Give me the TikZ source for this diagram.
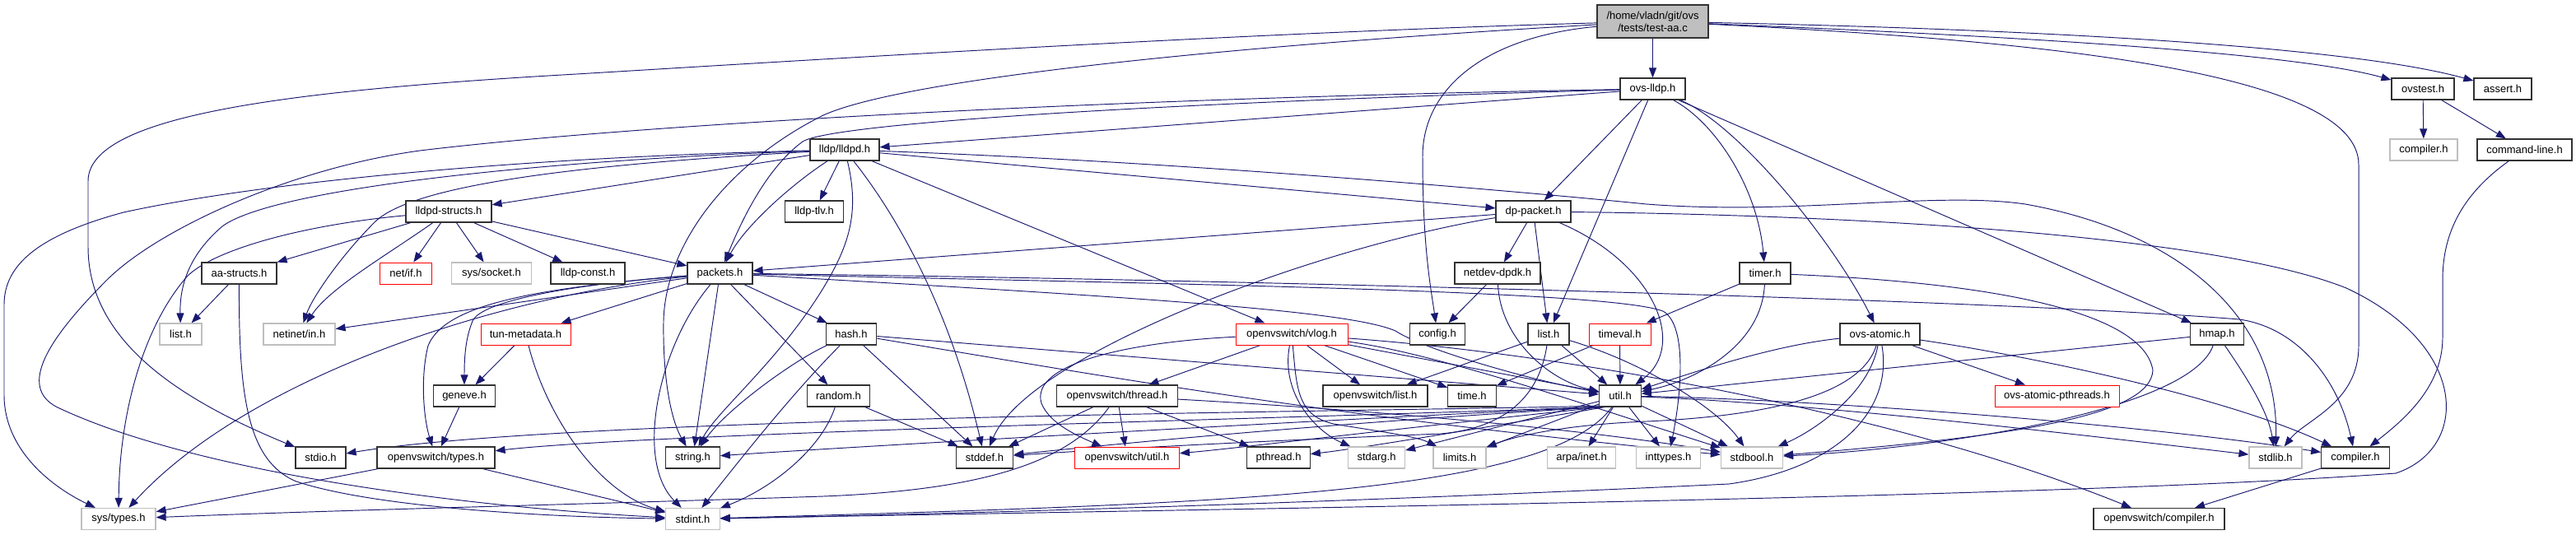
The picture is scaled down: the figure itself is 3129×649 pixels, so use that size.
\documentclass[tikz,border=0pt]{standalone}
\usepackage{fontspec}
\setmainfont{Liberation Sans}
\usetikzlibrary{arrows.meta}
\definecolor{edgec}{RGB}{25,25,112}
\definecolor{gfill}{RGB}{191,191,191}
\definecolor{gbord}{RGB}{191,191,191}
\definecolor{nbord}{RGB}{50,50,50}
\pgfdeclarelayer{bg}
\pgfsetlayers{bg,main}
\begin{document}
\begin{tikzpicture}[x=1pt,y=-1pt,
  box/.style={draw=nbord, line width=1.2pt, fill=white, minimum height=26pt, inner sep=0pt, font=\fontsize{13pt}{15pt}\selectfont},
  gbox/.style={box, draw=gbord},
  rbox/.style={box, draw=red, line width=1pt},
  e/.style={draw=edgec, line width=0.95pt, -{Triangle[length=12pt,width=9pt]}}]
\useasboundingbox (0,0) rectangle (3129,649);

% row 1
\node[box, fill=gfill, minimum width=135pt, minimum height=40pt, align=center] (T) at (2007.5,26) {/home/vladn/git/ovs\\/tests/test-aa.c};
% row 2
\node[box, minimum width=79pt] (L) at (2007.5,108) {ovs-lldp.h};
\node[box, minimum width=76pt] (ovst) at (2943,108) {ovstest.h};
\node[box, minimum width=70pt] (asrt) at (3040,108) {assert.h};
% row 3
\node[box, minimum width=84pt] (D) at (1026,182) {lldp/lldpd.h};
\node[gbox, minimum width=82pt] (cmpg) at (2944,182) {compiler.h};
\node[box, minimum width=115pt] (cmdl) at (3066.5,182) {command-line.h};
% row 4
\node[box, minimum width=104pt] (S) at (545,257) {lldpd-structs.h};
\node[box, minimum width=71pt] (tlv) at (989,257) {lldp-tlv.h};
\node[box, minimum width=91pt] (dpp) at (1862.5,257) {dp-packet.h};
% row 5
\node[box, minimum width=91pt] (aa) at (290.5,332) {aa-structs.h};
\node[rbox, minimum width=62.5pt] (netif) at (493,332) {net/if.h};
\node[gbox, minimum width=97.5pt] (sock) at (597,332) {sys/socket.h};
\node[box, minimum width=90pt] (lconst) at (714,332) {lldp-const.h};
\node[box, minimum width=79pt] (P) at (874.5,332) {packets.h};
\node[box, minimum width=104pt] (ndpdk) at (1819,332) {netdev-dpdk.h};
\node[box, minimum width=62pt] (timer) at (2144,332) {timer.h};
% row 6
\node[gbox, minimum width=51pt] (listg) at (219.5,406) {list.h};
\node[gbox, minimum width=87pt] (netin) at (363.5,406) {netinet/in.h};
\node[rbox, minimum width=109pt] (tun) at (638.5,406) {tun-metadata.h};
\node[box, minimum width=61.5pt] (hash) at (1034,406) {hash.h};
\node[rbox, minimum width=136pt] (vlog) at (1569,406) {openvswitch/vlog.h};
\node[box, minimum width=67pt] (config) at (1746,406) {config.h};
\node[box, minimum width=50pt] (listb) at (1881,406) {list.h};
\node[rbox, minimum width=75pt] (tval) at (1967.5,406) {timeval.h};
\node[box, minimum width=97pt] (atomic) at (2283.5,406) {ovs-atomic.h};
\node[box, minimum width=65pt] (hmap) at (2693,406) {hmap.h};
% row 7
\node[box, minimum width=75pt] (gen) at (564,481) {geneve.h};
\node[box, minimum width=76pt] (rand) at (1018.5,481) {random.h};
\node[box, minimum width=146.5pt] (thr) at (1357,481) {openvswitch/thread.h};
\node[box, minimum width=127pt] (olist) at (1670.5,481) {openvswitch/list.h};
\node[box, minimum width=58.5pt] (time) at (1788,481) {time.h};
\node[box, minimum width=50.5pt] (U) at (1968,481) {util.h};
\node[rbox, minimum width=151pt] (pthr) at (2498.5,481) {ovs-atomic-pthreads.h};
% row 8
\node[box, minimum width=61pt] (stdio) at (389.5,556) {stdio.h};
\node[box, minimum width=143pt] (otypes) at (529.5,556) {openvswitch/types.h};
\node[box, minimum width=65.5pt] (str) at (841.5,556) {string.h};
\node[box, minimum width=69.5pt] (stddef) at (1196,556) {stddef.h};
\node[rbox, minimum width=127pt] (outil) at (1369,556) {openvswitch/util.h};
\node[box, minimum width=76.5pt] (pthread) at (1553,556) {pthread.h};
\node[gbox, minimum width=69pt] (stdarg) at (1672,556) {stdarg.h};
\node[gbox, minimum width=64pt] (limits) at (1773,556) {limits.h};
\node[gbox, minimum width=82.6pt] (arpa) at (1921,556) {arpa/inet.h};
\node[gbox, minimum width=78pt] (intt) at (2026.5,556) {inttypes.h};
\node[gbox, minimum width=75pt] (stdbool) at (2128,556) {stdbool.h};
\node[gbox, minimum width=64pt] (stdlib) at (2764,556) {stdlib.h};
\node[box, minimum width=82.6pt] (cmpb) at (2861,556) {compiler.h};
% row 9
\node[gbox, minimum width=90pt] (systypes) at (144,630.5) {sys/types.h};
\node[gbox, minimum width=65.5pt] (stdint) at (841.5,630.5) {stdint.h};
\node[box, minimum width=159pt] (ocmp) at (2622.5,630.5) {openvswitch/compiler.h};

\begin{pgfonlayer}{bg}
\fill[white] (0,0) rectangle (3129,649);
% test-aa.c
\draw[e] (T) -- (L);
\draw[e] (T) .. controls (2400,42) and (2780,62) .. (ovst);
\draw[e] (T) .. controls (2450,35) and (2850,55) .. (asrt);
\draw[e] (T) .. controls (2500,50) and (2865,90) .. (2865,200) -- (2865,420) .. controls (2865,490) and (2800,510) .. (stdlib);
\draw[e] (T) .. controls (1800,45) and (1728,110) .. (1728,190) .. controls (1728,300) and (1738,350) .. (config);
\draw[e] (T) .. controls (1500,40) and (950,75) .. (700,90) .. controls (350,110) and (107,140) .. (107,220) -- (107,300) .. controls (107,420) and (230,490) .. (stdio);
\draw[e] (T) .. controls (1500,55) and (1100,95) .. (1000,140) .. controls (880,200) and (808,300) .. (806,390) .. controls (805,460) and (815,510) .. (str);
% ovstest, command-line
\draw[e] (ovst) -- (cmpg);
\draw[e] (ovst) -- (cmdl);
\draw[e] (cmdl) .. controls (2985,240) and (2967,290) .. (2967,340) -- (2967,410) .. controls (2967,470) and (2920,510) .. (cmpb);
% ovs-lldp.h
\draw[e] (L) -- (D);
\draw[e] (L) .. controls (1400,125) and (1010,150) .. (975,172) .. controls (930,205) and (900,270) .. (P);
\draw[e] (L) .. controls (1400,118) and (800,148) .. (510,183) .. controls (350,205) and (190,280) .. (130,340) .. controls (60,410) and (20,470) .. (70,495) .. controls (250,580) and (600,618) .. (stdint);
\draw[e] (L) -- (dpp);
\draw[e] (L) -- (listb);
\draw[e] (L) .. controls (2085,150) and (2135,230) .. (timer);
\draw[e] (L) .. controls (2110,150) and (2225,290) .. (atomic);
\draw[e] (L) -- (hmap);
% lldpd.h
\draw[e] (D) -- (S);
\draw[e] (D) .. controls (600,192) and (300,225) .. (150,258) .. controls (50,285) and (5,320) .. (5,370) -- (5,480) .. controls (5,545) and (60,590) .. (systypes);
\draw[e] (D) .. controls (650,195) and (330,230) .. (270,275) .. controls (235,305) and (218,340) .. (listg);
\draw[e] (D) .. controls (700,200) and (500,225) .. (455,270) .. controls (415,310) and (380,360) .. (netin);
\draw[e] (D) .. controls (960,225) and (905,275) .. (P);
\draw[e] (D) -- (tlv);
\draw[e] (D) .. controls (1045,260) and (1030,300) .. (1000,350) .. controls (945,440) and (870,500) .. (str);
\draw[e] (D) .. controls (1080,250) and (1150,360) .. (stddef);
\draw[e] (D) -- (vlog);
\draw[e] (D) .. controls (1400,195) and (1800,228) .. (2000,248) .. controls (2180,262) and (2350,232) .. (2460,248) .. controls (2640,280) and (2768,380) .. (stdlib);
\draw[e] (D) -- (dpp);
% lldpd-structs.h
\draw[e] (S) -- (aa);
\draw[e] (S) .. controls (470,310) and (400,350) .. (netin);
\draw[e] (S) -- (netif);
\draw[e] (S) -- (sock);
\draw[e] (S) -- (lconst);
\draw[e] (S) -- (P);
\draw[e] (S) .. controls (380,272) and (265,300) .. (228,335) .. controls (175,395) and (145,500) .. (systypes);
% aa-structs.h
\draw[e] (aa) -- (listg);
\draw[e] (aa) .. controls (290,480) and (300,560) .. (360,585) .. controls (450,615) and (650,628) .. (stdint);
% packets.h
\draw[e] (P) -- (netin);
\draw[e] (P) .. controls (600,360) and (300,460) .. (systypes);
\draw[e] (P) .. controls (650,350) and (540,370) .. (520,420) .. controls (510,460) and (515,510) .. (otypes);
\draw[e] (P) .. controls (700,345) and (585,365) .. (574,390) .. controls (566,410) and (564,430) .. (gen);
\draw[e] (P) -- (tun);
\draw[e] (P) -- (hash);
\draw[e] (P) -- (rand);
\draw[e] (P) -- (str);
\draw[e] (P) .. controls (800,420) and (770,560) .. (stdint);
\draw[e] (P) .. controls (1400,345) and (1950,352) .. (2020,378) .. controls (2050,395) and (2042,480) .. (intt);
\draw[e] (P) .. controls (1400,338) and (2400,362) .. (2720,388) .. controls (2790,398) and (2840,460) .. (cmpb);
\draw[e] (P) .. controls (1400,362) and (1640,378) .. (1695,402) .. controls (1730,425) and (1860,462) .. (U);
% hash.h
\draw[e] (hash) .. controls (960,440) and (880,500) .. (str);
\draw[e] (hash) .. controls (960,480) and (890,570) .. (stdint);
\draw[e] (hash) -- (stddef);
\draw[e] (hash) -- (U);
\draw[e] (hash) .. controls (1300,450) and (1600,505) .. (stdbool);
% random.h
\draw[e] (rand) -- (stddef);
\draw[e] (rand) .. controls (1000,540) and (945,590) .. (stdint);
% tun-metadata.h, geneve.h, types.h
\draw[e] (tun) -- (gen);
\draw[e] (tun) .. controls (665,510) and (730,600) .. (stdint);
\draw[e] (gen) -- (otypes);
\draw[e] (otypes) -- (systypes);
\draw[e] (otypes) -- (stdint);
% dp-packet.h
\draw[e] (dpp) -- (P);
\draw[e] (dpp) .. controls (1600,300) and (1250,430) .. (stddef);
\draw[e] (dpp) -- (ndpdk);
\draw[e] (dpp) -- (listb);
\draw[e] (dpp) .. controls (2010,320) and (2050,420) .. (U);
\draw[e] (dpp) .. controls (2300,262) and (2700,290) .. (2850,350) .. controls (3000,420) and (3000,545) .. (2910,575) .. controls (2500,605) and (1500,618) .. (stdint);
% netdev-dpdk.h
\draw[e] (ndpdk) -- (config);
\draw[e] (ndpdk) .. controls (1822,410) and (1880,462) .. (U);
% timer.h
\draw[e] (timer) -- (tval);
\draw[e] (timer) .. controls (2140,420) and (2060,462) .. (U);
\draw[e] (timer) .. controls (2450,345) and (2605,385) .. (2615,450) .. controls (2612,505) and (2450,530) .. (stdbool);
% timeval.h
\draw[e] (tval) -- (time);
\draw[e] (tval) -- (U);
% list.h
\draw[e] (listb) -- (olist);
\draw[e] (listb) -- (U);
\draw[e] (listb) .. controls (1995,440) and (2085,495) .. (stdbool);
\draw[e] (listb) .. controls (1870,480) and (1830,520) .. (1750,527) .. controls (1550,535) and (1350,545) .. (stddef);
% openvswitch/vlog.h
\draw[e] (vlog) .. controls (1380,415) and (1250,440) .. (1265,490) .. controls (1275,515) and (1310,530) .. (outil);
\draw[e] (vlog) -- (thr);
\draw[e] (vlog) -- (olist);
\draw[e] (vlog) -- (time);
\draw[e] (vlog) .. controls (1555,480) and (1600,525) .. (stdarg);
\draw[e] (vlog) .. controls (1575,470) and (1575,505) .. (1620,515) .. controls (1680,525) and (1720,530) .. (limits);
\draw[e] (vlog) .. controls (1750,430) and (1950,500) .. (stdbool);
\draw[e] (vlog) -- (U);
\draw[e] (vlog) .. controls (1900,430) and (2300,500) .. (ocmp);
% openvswitch/thread.h
\draw[e] (thr) -- (stddef);
\draw[e] (thr) .. controls (1300,560) and (1200,595) .. (1000,603) .. controls (700,613) and (400,620) .. (systypes);
\draw[e] (thr) -- (outil);
\draw[e] (thr) -- (pthread);
\draw[e] (thr) .. controls (1700,500) and (1950,525) .. (stdbool);
% util.h
\draw[e] (U.205) .. controls (1700,500) and (700,505) .. (stdio);
\draw[e] (U.207) .. controls (1700,505) and (800,525) .. (otypes);
\draw[e] (U.209) .. controls (1600,510) and (1000,545) .. (str);
\draw[e] (U.211) .. controls (1600,515) and (1350,540) .. (stddef);
\draw[e] (U.213) .. controls (1700,520) and (1500,545) .. (outil);
\draw[e] (U.216) .. controls (1800,520) and (1650,545) .. (pthread);
\draw[e] (U) -- (stdarg);
\draw[e] (U) -- (limits);
\draw[e] (U) -- (arpa);
\draw[e] (U) -- (intt);
\draw[e] (U) -- (stdbool);
\draw[e] (U) .. controls (1880,600) and (1500,612) .. (stdint);
\draw[e] (U) .. controls (2200,490) and (2500,525) .. (stdlib);
\draw[e] (U) .. controls (2200,485) and (2600,515) .. (cmpb);
% ovs-atomic.h
\draw[e] (atomic) .. controls (2150,420) and (2050,455) .. (U);
\draw[e] (atomic) .. controls (2260,480) and (2150,505) .. (2000,512) .. controls (1900,516) and (1840,530) .. (limits);
\draw[e] (atomic) .. controls (2270,480) and (2200,525) .. (stdbool);
\draw[e] (atomic) .. controls (2300,500) and (2230,570) .. (2100,588) .. controls (1600,612) and (1100,626) .. (stdint);
\draw[e] (atomic) -- (pthr);
\draw[e] (atomic) .. controls (2450,430) and (2700,480) .. (cmpb);
% hmap.h
\draw[e] (hmap) -- (U);
\draw[e] (hmap) .. controls (2660,500) and (2350,545) .. (stdbool);
\draw[e] (hmap) .. controls (2730,460) and (2755,500) .. (stdlib);
% compiler.h
\draw[e] (cmpb) -- (ocmp);
\end{pgfonlayer}
\end{tikzpicture}
\end{document}
